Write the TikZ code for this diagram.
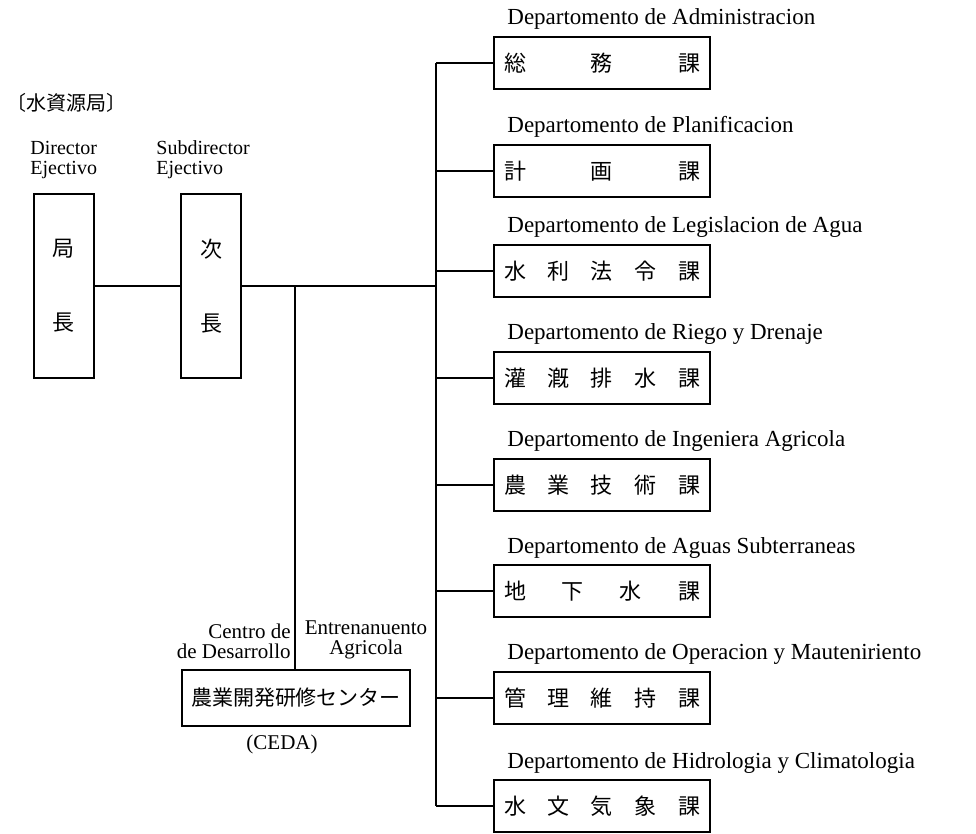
\documentclass[tikz,border=0pt]{standalone}
\usepackage{fontspec}
\setmainfont{Liberation Serif}
\newfontfamily\jp{Noto Sans CJK JP}
\usetikzlibrary{positioning}

\tikzset{
  kabox/.style={draw, line width=0.9pt, minimum width=108pt, minimum height=26pt, inner sep=0pt,
    font=\jp\fontsize{11}{13}\selectfont},
  chobox/.style={draw, line width=0.9pt, minimum width=30pt, minimum height=92pt, align=center,
    font=\jp\fontsize{11}{13}\selectfont},
  tag/.style={inner sep=0pt, font=\fontsize{11.5}{12}\selectfont},
  link/.style={line width=0.6pt},
}
% spread the characters of a box over its width
\newcommand{\spreadka}[1]{\hbox to 98pt{#1}}

\begin{document}
\begin{tikzpicture}[x=0.5pt, y=-0.5pt]
  \useasboundingbox (0,0) rectangle (976,834);

  \node[anchor=west, inner sep=0pt, font=\jp\fontsize{10}{12}\selectfont] (kyoku) at (6,103) {〔水資源局〕};

  % director and subdirector
  \node[chobox] (kyokucho) at (64,286) {局\\[24pt]長};
  \node[chobox] (jicho) at (211,286) {次\\[24pt]長};
  \node[tag, align=left, anchor=south west, font=\fontsize{10}{10}\selectfont] (dirlab) at (30,179) {Director\\Ejectivo};
  \node[tag, align=left, anchor=south west, font=\fontsize{10}{10}\selectfont] (sublab) at (156,179) {Subdirector\\Ejectivo};

  % training centre
  \node[draw, line width=0.9pt, minimum width=114pt, minimum height=28pt,
        font=\jp\fontsize{10.5}{12}\selectfont] (ceda) at (296,698) {農業開発研修センター};
  \node[tag, font=\fontsize{10.5}{11}\selectfont] (cedalab) at (282,744) {(CEDA)};

  % the bus
  \coordinate (bustop) at (436,63);
  \coordinate (busbot) at (436,806);
  \coordinate (busmid) at (436,286);
  \coordinate (cedatop) at (295,286);
  \draw[link] (bustop) -- (busbot);
  \draw[link] (kyokucho) -- (jicho);
  \draw[link] (jicho) -- (busmid);
  \draw[link] (cedatop) -- (cedatop |- ceda.north);

  \node[tag, align=right, anchor=south east, font=\fontsize{10.5}{10}\selectfont] (centlab) at (291,659) {Centro de\\de Desarrollo};
  \node[tag, align=center, anchor=south, font=\fontsize{10.5}{10}\selectfont] (entrlab) at (366,659) {Entrenanuento\\Agricola};

  % departments
  \foreach \i/\y/\ka/\dep in {
    1/63/{総\hfill 務\hfill 課}/{Departomento de Administracion},
    2/171/{計\hfill 画\hfill 課}/{Departomento de Planificacion},
    3/271/{水\hfill 利\hfill 法\hfill 令\hfill 課}/{Departomento de Legislacion de Agua},
    4/378/{灌\hfill 漑\hfill 排\hfill 水\hfill 課}/{Departomento de Riego y Drenaje},
    5/485/{農\hfill 業\hfill 技\hfill 術\hfill 課}/{Departomento de Ingeniera Agricola},
    6/591/{地\hfill 下\hfill 水\hfill 課}/{Departomento de Aguas Subterraneas},
    7/698/{管\hfill 理\hfill 維\hfill 持\hfill 課}/{Departomento de Operacion y Mauteniriento},
    8/806/{水\hfill 文\hfill 気\hfill 象\hfill 課}/{Departomento de Hidrologia y Climatologia}} {
    \node[kabox] (dept\i) at (602,\y) {\spreadka{\ka}};
    \node[tag, anchor=base west] (deplab\i) at (507,\y-38) {\dep};
    \coordinate (br\i) at (436,\y);
    \draw[link] (br\i) -- (dept\i);
  }
\end{tikzpicture}
\end{document}
